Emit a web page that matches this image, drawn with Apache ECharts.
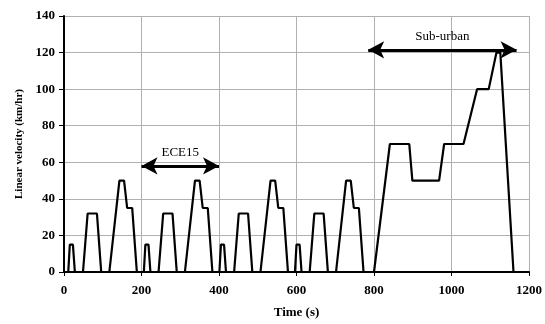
<!DOCTYPE html>
<html>
<head>
<meta charset="utf-8">
<script src="https://cdn.jsdelivr.net/npm/echarts@6/dist/echarts.min.js"></script>
<style>html,body{margin:0;padding:0;background:#fff}#c{width:545px;height:324px}</style>
</head>
<body>
<div id="c"></div>
<script>
// ECE15 urban cycle (time s, speed km/h), repeated 4 times
var ece15Time  = [0, 11, 15, 23, 28, 49, 61, 85, 96, 117, 143, 155, 163, 176, 188, 195];
var ece15Speed = [0, 0, 15, 15, 0, 0, 32, 32, 0, 0, 50, 50, 35, 35, 0, 0];
var ece15Offsets = [0, 195, 390, 585];
// Sub-urban (EUDC) part
var eudcTime  = [780, 800, 841, 891, 899, 968, 981, 1031, 1066, 1096, 1116, 1126, 1160, 1180];
var eudcSpeed = [0, 0, 70, 70, 50, 50, 70, 70, 100, 100, 120, 120, 0, 0];
// Axis ticks
var xTicks = [0, 200, 400, 600, 800, 1000, 1200];
var yTicks = [0, 20, 40, 60, 80, 100, 120, 140];
// Annotations
var annotLabels = ['ECE15', 'Sub-urban'];
var annotStart = [200, 785];
var annotEnd   = [400, 1168];
var annotLevel = [58, 121.5];

var data = [];
ece15Offsets.forEach(function (off) {
  for (var i = 0; i < ece15Time.length; i++) {
    data.push([ece15Time[i] + off, ece15Speed[i]]);
  }
});
for (var j = 0; j < eudcTime.length; j++) data.push([eudcTime[j], eudcSpeed[j]]);

var serif = 'Liberation Serif';
var chart = echarts.init(document.getElementById('c'));
chart.setOption({
  animation: false,
  grid: { left: 64, right: 13, top: 16, bottom: 52, containLabel: false },
  xAxis: {
    type: 'value', min: xTicks[0], max: xTicks[xTicks.length - 1], interval: 200,
    name: 'Time (s)', nameLocation: 'middle', nameGap: 34,
    nameTextStyle: { fontFamily: serif, fontWeight: 'bold', fontSize: 13, color: '#000' },
    axisLine: { show: true, lineStyle: { color: '#000', width: 2 } },
    axisTick: { show: true, length: 4, lineStyle: { color: '#000', width: 1 } },
    axisLabel: { fontFamily: serif, fontWeight: 'bold', fontSize: 13, color: '#000', margin: 12,
      formatter: function (v) { return String(v); } },
    splitLine: { show: true, lineStyle: { color: '#b0b0b0', width: 1 } }
  },
  yAxis: {
    type: 'value', min: yTicks[0], max: yTicks[yTicks.length - 1], interval: 20,
    name: 'Linear velocity (km/hr)', nameLocation: 'middle', nameGap: 39,
    nameTextStyle: { fontFamily: serif, fontWeight: 'bold', fontSize: 11, color: '#000' },
    axisLine: { show: true, lineStyle: { color: '#000', width: 2 } },
    axisTick: { show: true, length: 5, lineStyle: { color: '#000', width: 1 } },
    axisLabel: { fontFamily: serif, fontWeight: 'bold', fontSize: 13, color: '#000', margin: 9,
      formatter: function (v) { return String(v); } },
    splitLine: { show: true, lineStyle: { color: '#b0b0b0', width: 1 } }
  },
  series: [{
    type: 'line', data: data, symbol: 'none',
    lineStyle: { color: '#000', width: 2.2 },
    markLine: {
      silent: true, symbol: ['arrow', 'arrow'], symbolSize: [13, 16],
      lineStyle: { color: '#000', width: 3, type: 'solid' },
      label: {
        show: true, position: 'middle', distance: 7,
        fontFamily: serif, fontSize: 13, color: '#000',
        formatter: function (p) { return p.name; }
      },
      data: annotLabels.map(function (n, k) {
        return [{ name: n, coord: [annotStart[k], annotLevel[k]] }, { coord: [annotEnd[k], annotLevel[k]] }];
      })
    }
  }]
});
</script>
</body>
</html>
